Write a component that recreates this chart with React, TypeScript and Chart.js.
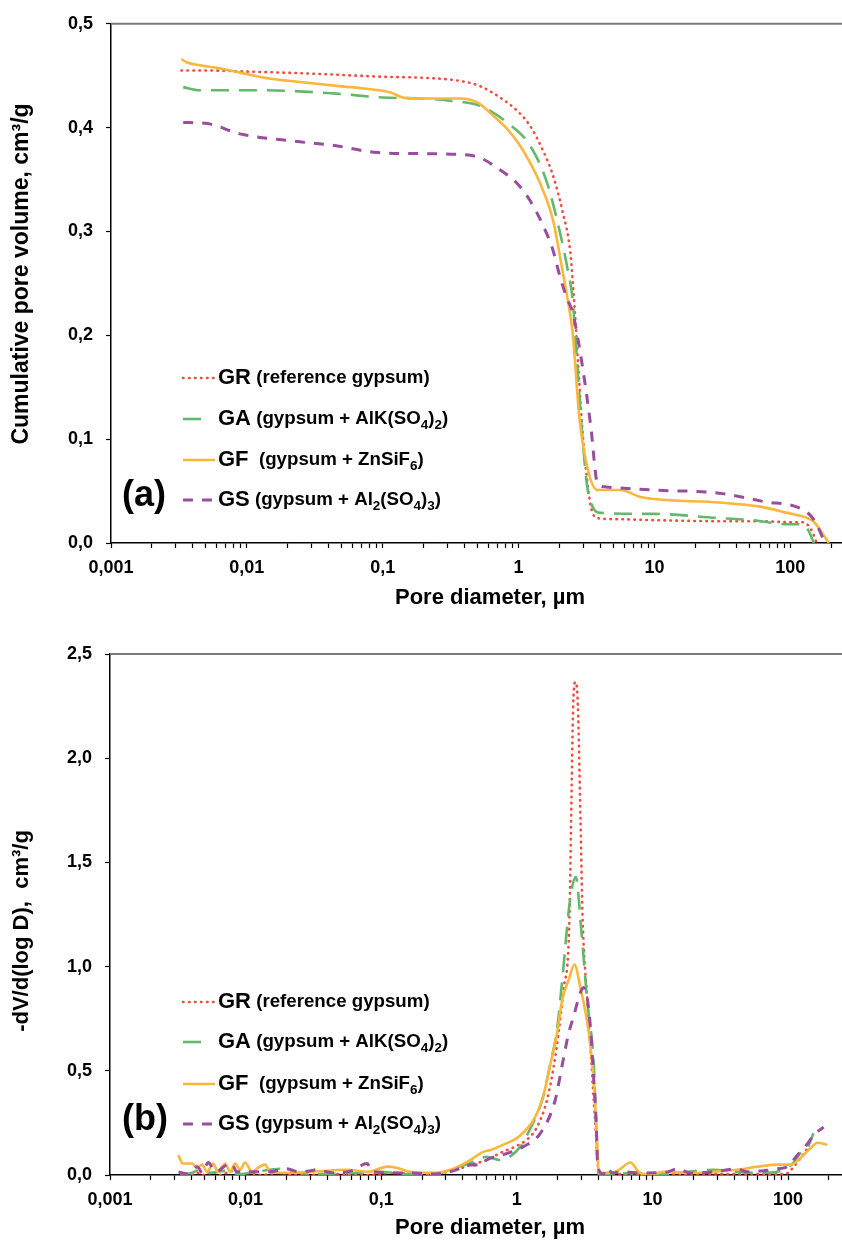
import React, { useEffect, useRef } from "react";
import { Chart, registerables } from "chart.js";

Chart.register(...registerables);

const FONT = "'Liberation Sans', Arial, Helvetica, sans-serif";

const COLOR_GR = "#F24A3D";
const COLOR_GA = "#63B96B";
const COLOR_GF = "#FBB63E";
const COLOR_GS = "#9A4C9F";

// ---- x axis (pore diameter, µm, log) ----
const X_MAJOR = [0.001, 0.01, 0.1, 1, 10, 100];
const X_LABELS = ["0,001", "0,01", "0,1", "1", "10", "100"];
const X_MINOR_MULT = [1, 2, 3, 4, 5, 6, 7, 8, 9];

// ---- (a) cumulative pore volume, cm3/g ----
const GR_A_D = [0.0033, 0.005, 0.01, 0.03, 0.1, 0.2, 0.37, 0.52, 0.73, 0.98, 1.21, 1.51, 1.79, 2.1, 2.4, 2.56, 2.75, 2.96, 3.2, 3.4, 3.8, 5, 10, 30, 60, 100, 124, 143, 156];
const GR_A_V = [0.455, 0.455, 0.454, 0.452, 0.449, 0.448, 0.445, 0.44, 0.429, 0.416, 0.402, 0.378, 0.354, 0.32, 0.28, 0.234, 0.17, 0.106, 0.06, 0.035, 0.024, 0.023, 0.022, 0.021, 0.021, 0.02, 0.02, 0.0125, 0];

const GA_A_D = [0.0034, 0.0045, 0.0125, 0.043, 0.1, 0.19, 0.31, 0.52, 0.82, 1.21, 1.6, 2.0, 2.3, 2.5, 2.7, 2.96, 3.2, 3.5, 4.0, 10, 30, 53, 95, 124, 136, 149];
const GA_A_V = [0.439, 0.436, 0.436, 0.433, 0.429, 0.428, 0.426, 0.421, 0.405, 0.383, 0.349, 0.301, 0.263, 0.234, 0.172, 0.099, 0.054, 0.035, 0.029, 0.028, 0.024, 0.022, 0.018, 0.018, 0.012, 0];

const GF_A_D = [0.0033, 0.0036, 0.0045, 0.0064, 0.0089, 0.015, 0.0245, 0.048, 0.081, 0.113, 0.141, 0.19, 0.37, 0.5, 0.62, 0.82, 1.02, 1.41, 1.79, 2.1, 2.3, 2.5, 2.8, 3.2, 3.8, 5.6, 8.1, 30, 60, 95, 134, 150, 192];
const GF_A_V = [0.466, 0.463, 0.46, 0.457, 0.453, 0.447, 0.444, 0.44, 0.437, 0.434, 0.429, 0.428, 0.428, 0.424, 0.414, 0.399, 0.383, 0.349, 0.311, 0.263, 0.234, 0.202, 0.121, 0.073, 0.051, 0.051, 0.044, 0.039, 0.035, 0.029, 0.024, 0.02, 0];

const GS_A_D = [0.0034, 0.0051, 0.0089, 0.022, 0.043, 0.091, 0.19, 0.39, 0.52, 0.7, 0.98, 1.21, 1.51, 1.79, 2.05, 2.3, 2.5, 2.96, 3.4, 3.8, 4.4, 9.8, 30, 63, 124, 150, 180];
const GS_A_V = [0.405, 0.404, 0.394, 0.387, 0.383, 0.376, 0.375, 0.374, 0.371, 0.361, 0.346, 0.33, 0.306, 0.282, 0.253, 0.234, 0.222, 0.169, 0.112, 0.058, 0.054, 0.051, 0.048, 0.04, 0.032, 0.022, 0];

// ---- (b) -dV/d(log D), cm3/g ----
const GR_B_D = [0.0033, 0.0037, 0.0045, 0.005, 0.0057, 0.0065, 0.008, 0.009, 0.0105, 0.013, 0.018, 0.025, 0.05, 0.08, 0.12, 0.2, 0.34, 0.45, 0.6, 0.75, 1.0, 1.19, 1.41, 1.67, 1.87, 2.03, 2.21, 2.43, 2.62, 2.7, 2.8, 2.95, 3.05, 3.31, 3.5, 3.69, 3.83, 3.96, 4.05, 5, 10, 20, 50, 90, 100, 110, 125, 140];
const GR_B_V = [0.01, 0, 0.01, 0, 0.015, 0, 0.02, 0, 0.01, 0, 0.01, 0, 0.005, 0, 0.01, 0.005, 0.02, 0.048, 0.072, 0.105, 0.14, 0.17, 0.23, 0.36, 0.52, 0.68, 0.89, 1.18, 2.3, 2.365, 2.3, 1.7, 1.25, 0.84, 0.6, 0.36, 0.2, 0.04, 0, 0.005, 0.005, 0.005, 0.005, 0.005, 0.01, 0.04, 0.085, 0.13];

const GA_B_D = [0.0033, 0.004, 0.0046, 0.0055, 0.007, 0.009, 0.012, 0.018, 0.025, 0.04, 0.07, 0.1, 0.15, 0.25, 0.34, 0.45, 0.6, 0.75, 1.06, 1.25, 1.54, 1.75, 1.98, 2.15, 2.47, 2.72, 3.0, 3.3, 3.7, 3.95, 4.05, 5, 8, 12, 28, 40, 70, 93, 110, 125, 139, 154];
const GA_B_V = [0.005, 0.01, 0.025, 0.01, 0.02, 0.005, 0.015, 0.03, 0.01, 0.005, 0.01, 0.015, 0.005, 0.005, 0.03, 0.057, 0.087, 0.072, 0.135, 0.22, 0.36, 0.52, 0.7, 0.92, 1.32, 1.43, 1.16, 0.84, 0.52, 0.05, 0, 0.005, 0.01, 0.005, 0.025, 0.015, 0.01, 0.025, 0.06, 0.11, 0.13, 0.2];

const GF_B_D = [0.00318, 0.00346, 0.00403, 0.00439, 0.00478, 0.0052, 0.00575, 0.00627, 0.00706, 0.00769, 0.00837, 0.0091, 0.0099, 0.01117, 0.01236, 0.01393, 0.01517, 0.02, 0.03, 0.0561, 0.08, 0.1107, 0.13, 0.1637, 0.25, 0.34, 0.45, 0.56, 0.64, 0.76, 1.06, 1.37, 1.58, 1.82, 1.98, 2.16, 2.42, 2.66, 2.94, 3.4, 3.7, 3.95, 4.0, 4.6, 5.5, 6.9, 7.9, 9.2, 12, 19, 28, 42, 60, 85, 105, 125, 147, 165, 195];
const GF_B_V = [0.095, 0.055, 0.055, 0.035, 0.05, 0.015, 0.055, 0.015, 0.055, 0.015, 0.055, 0.025, 0.06, 0.015, 0.035, 0.05, 0.015, 0.01, 0.015, 0.025, 0.015, 0.04, 0.035, 0.015, 0.01, 0.03, 0.07, 0.11, 0.12, 0.14, 0.19, 0.28, 0.39, 0.57, 0.68, 0.84, 0.94, 1.01, 0.9, 0.68, 0.44, 0.1, 0.015, 0.01, 0.02, 0.06, 0.015, 0, 0.015, 0.01, 0.015, 0.025, 0.04, 0.05, 0.05, 0.085, 0.13, 0.155, 0.145];

const GS_B_D = [0.0032, 0.0037, 0.0044, 0.0048, 0.0053, 0.006, 0.0073, 0.0079, 0.0086, 0.011, 0.015, 0.02, 0.025, 0.03, 0.033, 0.045, 0.06, 0.0789, 0.085, 0.15, 0.25, 0.34, 0.45, 0.54, 0.6, 0.86, 1.11, 1.49, 1.92, 2.15, 2.41, 2.62, 2.94, 3.1, 3.3, 3.5, 3.7, 3.85, 3.95, 4.35, 4.6, 5.07, 6.0, 8.6, 12.9, 15.3, 19.1, 28, 42, 50, 66, 84, 99, 117, 139, 154, 183];
const GS_B_V = [0.015, 0.005, 0.04, 0.01, 0.06, 0.015, 0.05, 0.055, 0.015, 0.015, 0.015, 0.03, 0.015, 0.02, 0.025, 0.01, 0.02, 0.055, 0.015, 0.01, 0.005, 0.02, 0.048, 0.048, 0.072, 0.105, 0.135, 0.2, 0.36, 0.52, 0.68, 0.76, 0.875, 0.9, 0.85, 0.7, 0.45, 0.25, 0.04, 0.005, 0.035, 0.01, 0.015, 0.01, 0.015, 0.03, 0.01, 0.015, 0.03, 0.015, 0.02, 0.03, 0.04, 0.095, 0.15, 0.19, 0.23];

// ---- legend text ----
type Part = [string, number];
const LEGEND_CODES = ["GR", "GA", "GF", "GS"];
const LEGEND_GAPS = [" ", " ", "  ", " "];
const LEGEND_PARTS: Part[][] = [
  [["(reference gypsum)", 0]],
  [["(gypsum + AlK(SO", 0], ["4", 1], [")", 0], ["2", 1], [")", 0]],
  [["(gypsum + ZnSiF", 0], ["6", 1], [")", 0]],
  [["(gypsum + Al", 0], ["2", 1], ["(SO", 0], ["4", 1], [")", 0], ["3", 1], [")", 0]],
];

const STYLES = [
  { color: COLOR_GR, width: 2.6, dash: [0.5, 5.5], cap: "round", sampleEnd: 214, order: 4 },
  { color: COLOR_GA, width: 2.6, dash: [18, 10], cap: "butt", sampleEnd: 205, order: 3 },
  { color: COLOR_GF, width: 2.6, dash: [] as number[], cap: "butt", sampleEnd: 215, order: 2 },
  { color: COLOR_GS, width: 3, dash: [10, 9], cap: "butt", sampleEnd: 214, order: 1 },
];

function zip(d: number[], v: number[]) {
  return d.map((x, i) => ({ x, y: v[i] }));
}

function buildXTicks(max: number) {
  const out: number[] = [];
  X_MAJOR.forEach((m) => X_MINOR_MULT.forEach((k) => {
    const v = +(m * k).toPrecision(6);
    if (v <= max) out.push(v);
  }));
  return out;
}

function xLabel(value: number) {
  const i = X_MAJOR.findIndex((m) => Math.abs(Math.log10(m) - Math.log10(value)) < 1e-6);
  return i >= 0 ? X_LABELS[i] : "";
}

interface PanelCfg {
  canvasH: number;
  areaTop: number;
  areaBottom: number;
  axisX: number;
  xMax: number;
  yMax: number;
  yStep: number;
  yTitle: string;
  yTitleY: number;
  yTitleSize: number;
  xTitleY: number;
  panel: string;
  panelY: number;
  legendYs: number[];
  series: { d: number[]; v: number[] }[];
}

function makeConfig(p: PanelCfg): any {
  const xTicks = buildXTicks(p.xMax);
  const overlay = {
    id: "overlay",
    afterDraw(chart: any) {
      const ctx = chart.ctx as CanvasRenderingContext2D;
      const a = chart.chartArea;
      ctx.save();
      // top frame line
      ctx.setLineDash([]);
      ctx.strokeStyle = "#7a7a7a";
      ctx.lineWidth = 2;
      ctx.beginPath();
      ctx.moveTo(a.left, a.top);
      ctx.lineTo(chart.width, a.top);
      ctx.stroke();

      ctx.fillStyle = "#000";
      // x title
      ctx.font = `bold 22px ${FONT}`;
      ctx.textAlign = "center";
      ctx.textBaseline = "middle";
      ctx.fillText("Pore diameter, µm", 490, p.xTitleY);
      // y title
      ctx.save();
      ctx.translate(22, p.yTitleY);
      ctx.rotate(-Math.PI / 2);
      ctx.font = `bold ${p.yTitleSize}px ${FONT}`;
      ctx.fillText(p.yTitle, 0, 0);
      ctx.restore();

      // panel label
      ctx.textAlign = "left";
      ctx.font = `bold 36px ${FONT}`;
      ctx.fillText(p.panel, 122, p.panelY);

      // legend
      LEGEND_CODES.forEach((code, i) => {
        const y = p.legendYs[i];
        const st = STYLES[i];
        ctx.save();
        ctx.strokeStyle = st.color;
        ctx.lineWidth = st.width;
        ctx.lineCap = st.cap as CanvasLineCap;
        ctx.setLineDash(st.dash);
        ctx.beginPath();
        ctx.moveTo(183, y);
        ctx.lineTo(st.sampleEnd, y);
        ctx.stroke();
        ctx.restore();

        let x = 218;
        ctx.textAlign = "left";
        ctx.textBaseline = "middle";
        ctx.font = `bold 22px ${FONT}`;
        ctx.fillText(code, x, y);
        x += ctx.measureText(code).width;
        ctx.font = `bold 18.7px ${FONT}`;
        x += ctx.measureText(LEGEND_GAPS[i]).width;
        LEGEND_PARTS[i].forEach(([t, sub]) => {
          if (sub) {
            ctx.font = `bold 13.5px ${FONT}`;
            ctx.fillText(t, x, y + 6);
          } else {
            ctx.font = `bold 18.7px ${FONT}`;
            ctx.fillText(t, x, y);
          }
          x += ctx.measureText(t).width;
        });
      });
      ctx.restore();
    },
  };

  return {
    type: "line",
    data: {
      datasets: p.series.map((s, i) => ({
        label: LEGEND_CODES[i],
        data: zip(s.d, s.v),
        borderColor: STYLES[i].color,
        backgroundColor: STYLES[i].color,
        borderWidth: STYLES[i].width,
        borderDash: STYLES[i].dash,
        borderCapStyle: STYLES[i].cap,
        pointRadius: 0,
        fill: false,
        cubicInterpolationMode: "monotone",
        order: STYLES[i].order,
      })),
    },
    options: {
      responsive: false,
      animation: false,
      devicePixelRatio: 1,
      layout: { padding: { top: p.areaTop, left: 0, right: 0, bottom: 0 } },
      plugins: { legend: { display: false }, tooltip: { enabled: false } },
      scales: {
        x: {
          type: "logarithmic",
          min: 0.001,
          max: p.xMax,
          bounds: "data",
          afterBuildTicks: (scale: any) => {
            scale.ticks = xTicks.map((v) => ({ value: v }));
          },
          afterFit: (scale: any) => {
            scale.height = p.canvasH - p.areaBottom;
          },
          grid: { drawOnChartArea: false, drawTicks: true, tickLength: 5, tickColor: "#000", tickWidth: 1.2 },
          border: { display: true, color: "#000", width: 1.5 },
          ticks: {
            autoSkip: false,
            maxRotation: 0,
            minRotation: 0,
            padding: 9,
            color: "#000",
            font: { family: FONT, size: 18, weight: "bold" },
            callback: (v: any) => xLabel(Number(v)),
          },
        },
        y: {
          type: "linear",
          min: 0,
          max: p.yMax,
          afterFit: (scale: any) => {
            scale.width = p.axisX;
          },
          grid: { drawOnChartArea: false, drawTicks: true, tickLength: 5, tickColor: "#000", tickWidth: 1.2 },
          border: { display: true, color: "#000", width: 1.5 },
          ticks: {
            stepSize: p.yStep,
            padding: 13,
            color: "#000",
            font: { family: FONT, size: 18, weight: "bold" },
            callback: (v: any) => Number(v).toFixed(1).replace(".", ","),
          },
        },
      },
    },
    plugins: [overlay],
  };
}

const TOP: PanelCfg = {
  canvasH: 625,
  areaTop: 23,
  areaBottom: 543,
  axisX: 111,
  xMax: 240,
  yMax: 0.5,
  yStep: 0.1,
  yTitle: "Cumulative pore volume, cm³/g",
  yTitleY: 274,
  yTitleSize: 23,
  xTitleY: 598,
  panel: "(a)",
  panelY: 496,
  legendYs: [378, 419, 460, 500],
  series: [
    { d: GR_A_D, v: GR_A_V },
    { d: GA_A_D, v: GA_A_V },
    { d: GF_A_D, v: GF_A_V },
    { d: GS_A_D, v: GS_A_V },
  ],
};

const BOTTOM: PanelCfg = {
  canvasH: 616,
  areaTop: 29,
  areaBottom: 550,
  axisX: 110,
  xMax: 250,
  yMax: 2.5,
  yStep: 0.5,
  yTitle: "-dV/d(log D),  cm³/g",
  yTitleY: 306,
  yTitleSize: 22,
  xTitleY: 603,
  panel: "(b)",
  panelY: 495,
  legendYs: [377, 417, 459, 499],
  series: [
    { d: GR_B_D, v: GR_B_V },
    { d: GA_B_D, v: GA_B_V },
    { d: GF_B_D, v: GF_B_V },
    { d: GS_B_D, v: GS_B_V },
  ],
};

function Panel({ cfg, top }: { cfg: PanelCfg; top: number }) {
  const ref = useRef<HTMLCanvasElement | null>(null);
  useEffect(() => {
    if (!ref.current) return;
    const chart = new Chart(ref.current, makeConfig(cfg));
    return () => chart.destroy();
  }, [cfg]);
  return (
    <canvas
      ref={ref}
      width={842}
      height={cfg.canvasH}
      style={{ position: "absolute", left: 0, top, width: 842, height: cfg.canvasH, display: "block" }}
    />
  );
}

export default function App() {
  return (
    <div style={{ position: "absolute", left: 0, top: 0, width: 842, height: 1241, background: "#fff", overflow: "hidden" }}>
      <Panel cfg={TOP} top={0} />
      <Panel cfg={BOTTOM} top={625} />
    </div>
  );
}
